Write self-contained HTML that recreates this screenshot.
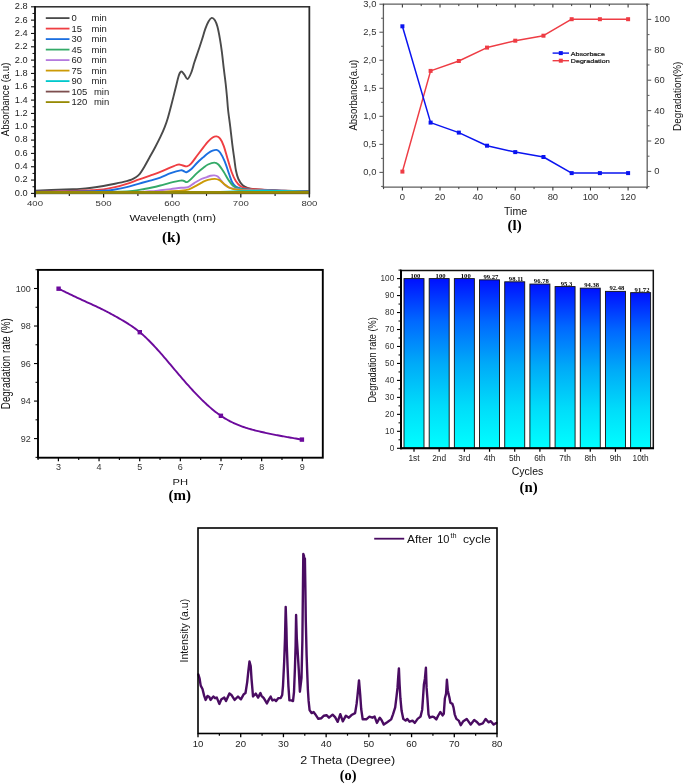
<!DOCTYPE html><html><head><meta charset="utf-8"><style>html,body{margin:0;padding:0;background:#fff;}svg{display:block;will-change:transform;}</style></head><body>
<svg width="685" height="784" viewBox="0 0 685 784">
<rect width="685" height="784" fill="#fff"/>
<line x1="31" y1="193.4" x2="35" y2="193.4" stroke="#111" stroke-width="1.1"/>
<text transform="translate(27.6 195.8) scale(1.1 1)" font-size="8.4" text-anchor="end" fill="#1c1c1c" font-family="'Liberation Sans', sans-serif" font-weight="normal">0.0</text>
<line x1="32.5" y1="186.74" x2="35" y2="186.74" stroke="#111" stroke-width="1"/>
<line x1="31" y1="180.07" x2="35" y2="180.07" stroke="#111" stroke-width="1.1"/>
<text transform="translate(27.6 182.47) scale(1.1 1)" font-size="8.4" text-anchor="end" fill="#1c1c1c" font-family="'Liberation Sans', sans-serif" font-weight="normal">0.2</text>
<line x1="32.5" y1="173.41" x2="35" y2="173.41" stroke="#111" stroke-width="1"/>
<line x1="31" y1="166.74" x2="35" y2="166.74" stroke="#111" stroke-width="1.1"/>
<text transform="translate(27.6 169.14) scale(1.1 1)" font-size="8.4" text-anchor="end" fill="#1c1c1c" font-family="'Liberation Sans', sans-serif" font-weight="normal">0.4</text>
<line x1="32.5" y1="160.08" x2="35" y2="160.08" stroke="#111" stroke-width="1"/>
<line x1="31" y1="153.41" x2="35" y2="153.41" stroke="#111" stroke-width="1.1"/>
<text transform="translate(27.6 155.81) scale(1.1 1)" font-size="8.4" text-anchor="end" fill="#1c1c1c" font-family="'Liberation Sans', sans-serif" font-weight="normal">0.6</text>
<line x1="32.5" y1="146.75" x2="35" y2="146.75" stroke="#111" stroke-width="1"/>
<line x1="31" y1="140.09" x2="35" y2="140.09" stroke="#111" stroke-width="1.1"/>
<text transform="translate(27.6 142.49) scale(1.1 1)" font-size="8.4" text-anchor="end" fill="#1c1c1c" font-family="'Liberation Sans', sans-serif" font-weight="normal">0.8</text>
<line x1="32.5" y1="133.42" x2="35" y2="133.42" stroke="#111" stroke-width="1"/>
<line x1="31" y1="126.76" x2="35" y2="126.76" stroke="#111" stroke-width="1.1"/>
<text transform="translate(27.6 129.16) scale(1.1 1)" font-size="8.4" text-anchor="end" fill="#1c1c1c" font-family="'Liberation Sans', sans-serif" font-weight="normal">1.0</text>
<line x1="32.5" y1="120.09" x2="35" y2="120.09" stroke="#111" stroke-width="1"/>
<line x1="31" y1="113.43" x2="35" y2="113.43" stroke="#111" stroke-width="1.1"/>
<text transform="translate(27.6 115.83) scale(1.1 1)" font-size="8.4" text-anchor="end" fill="#1c1c1c" font-family="'Liberation Sans', sans-serif" font-weight="normal">1.2</text>
<line x1="32.5" y1="106.76" x2="35" y2="106.76" stroke="#111" stroke-width="1"/>
<line x1="31" y1="100.1" x2="35" y2="100.1" stroke="#111" stroke-width="1.1"/>
<text transform="translate(27.6 102.5) scale(1.1 1)" font-size="8.4" text-anchor="end" fill="#1c1c1c" font-family="'Liberation Sans', sans-serif" font-weight="normal">1.4</text>
<line x1="32.5" y1="93.44" x2="35" y2="93.44" stroke="#111" stroke-width="1"/>
<line x1="31" y1="86.77" x2="35" y2="86.77" stroke="#111" stroke-width="1.1"/>
<text transform="translate(27.6 89.17) scale(1.1 1)" font-size="8.4" text-anchor="end" fill="#1c1c1c" font-family="'Liberation Sans', sans-serif" font-weight="normal">1.6</text>
<line x1="32.5" y1="80.11" x2="35" y2="80.11" stroke="#111" stroke-width="1"/>
<line x1="31" y1="73.44" x2="35" y2="73.44" stroke="#111" stroke-width="1.1"/>
<text transform="translate(27.6 75.84) scale(1.1 1)" font-size="8.4" text-anchor="end" fill="#1c1c1c" font-family="'Liberation Sans', sans-serif" font-weight="normal">1.8</text>
<line x1="32.5" y1="66.78" x2="35" y2="66.78" stroke="#111" stroke-width="1"/>
<line x1="31" y1="60.11" x2="35" y2="60.11" stroke="#111" stroke-width="1.1"/>
<text transform="translate(27.6 62.51) scale(1.1 1)" font-size="8.4" text-anchor="end" fill="#1c1c1c" font-family="'Liberation Sans', sans-serif" font-weight="normal">2.0</text>
<line x1="32.5" y1="53.45" x2="35" y2="53.45" stroke="#111" stroke-width="1"/>
<line x1="31" y1="46.79" x2="35" y2="46.79" stroke="#111" stroke-width="1.1"/>
<text transform="translate(27.6 49.19) scale(1.1 1)" font-size="8.4" text-anchor="end" fill="#1c1c1c" font-family="'Liberation Sans', sans-serif" font-weight="normal">2.2</text>
<line x1="32.5" y1="40.12" x2="35" y2="40.12" stroke="#111" stroke-width="1"/>
<line x1="31" y1="33.46" x2="35" y2="33.46" stroke="#111" stroke-width="1.1"/>
<text transform="translate(27.6 35.86) scale(1.1 1)" font-size="8.4" text-anchor="end" fill="#1c1c1c" font-family="'Liberation Sans', sans-serif" font-weight="normal">2.4</text>
<line x1="32.5" y1="26.79" x2="35" y2="26.79" stroke="#111" stroke-width="1"/>
<line x1="31" y1="20.13" x2="35" y2="20.13" stroke="#111" stroke-width="1.1"/>
<text transform="translate(27.6 22.53) scale(1.1 1)" font-size="8.4" text-anchor="end" fill="#1c1c1c" font-family="'Liberation Sans', sans-serif" font-weight="normal">2.6</text>
<line x1="32.5" y1="13.46" x2="35" y2="13.46" stroke="#111" stroke-width="1"/>
<line x1="31" y1="6.8" x2="35" y2="6.8" stroke="#111" stroke-width="1.1"/>
<text transform="translate(27.6 9.2) scale(1.1 1)" font-size="8.4" text-anchor="end" fill="#1c1c1c" font-family="'Liberation Sans', sans-serif" font-weight="normal">2.8</text>
<line x1="35" y1="193.4" x2="35" y2="197.4" stroke="#111" stroke-width="1.2"/>
<text transform="translate(35 206.3) scale(1.2 1)" font-size="8" text-anchor="middle" fill="#333" font-family="'Liberation Sans', sans-serif" font-weight="normal">400</text>
<line x1="69.3" y1="193.4" x2="69.3" y2="195.9" stroke="#111" stroke-width="1.1"/>
<line x1="103.6" y1="193.4" x2="103.6" y2="197.4" stroke="#111" stroke-width="1.2"/>
<text transform="translate(103.6 206.3) scale(1.2 1)" font-size="8" text-anchor="middle" fill="#333" font-family="'Liberation Sans', sans-serif" font-weight="normal">500</text>
<line x1="137.9" y1="193.4" x2="137.9" y2="195.9" stroke="#111" stroke-width="1.1"/>
<line x1="172.2" y1="193.4" x2="172.2" y2="197.4" stroke="#111" stroke-width="1.2"/>
<text transform="translate(172.2 206.3) scale(1.2 1)" font-size="8" text-anchor="middle" fill="#333" font-family="'Liberation Sans', sans-serif" font-weight="normal">600</text>
<line x1="206.5" y1="193.4" x2="206.5" y2="195.9" stroke="#111" stroke-width="1.1"/>
<line x1="240.8" y1="193.4" x2="240.8" y2="197.4" stroke="#111" stroke-width="1.2"/>
<text transform="translate(240.8 206.3) scale(1.2 1)" font-size="8" text-anchor="middle" fill="#333" font-family="'Liberation Sans', sans-serif" font-weight="normal">700</text>
<line x1="275.1" y1="193.4" x2="275.1" y2="195.9" stroke="#111" stroke-width="1.1"/>
<line x1="309.4" y1="193.4" x2="309.4" y2="197.4" stroke="#111" stroke-width="1.2"/>
<text transform="translate(309.4 206.3) scale(1.2 1)" font-size="8" text-anchor="middle" fill="#333" font-family="'Liberation Sans', sans-serif" font-weight="normal">800</text>
<rect x="35" y="6.8" width="274.4" height="186.6" fill="none" stroke="#2a2a2a" stroke-width="1.5"/>
<path d="M35.5 190.6C40.42 190.4 57.58 189.68 65 189.4C72.42 189.12 75.55 189.17 80 188.9C84.45 188.63 87.8 188.28 91.7 187.8C95.6 187.32 99.52 186.68 103.4 186C107.28 185.32 111.12 184.52 115 183.7C118.88 182.88 123.95 181.77 126.7 181.1C129.45 180.43 130.05 180.28 131.5 179.7C132.95 179.12 134.02 178.58 135.4 177.6C136.78 176.62 138.35 175.53 139.8 173.8C141.25 172.07 142.48 169.92 144.1 167.2C145.72 164.48 147.7 160.75 149.5 157.5C151.3 154.25 153.08 151.13 154.9 147.7C156.72 144.27 158.77 140.33 160.4 136.9C162.03 133.47 163.43 130.35 164.7 127.1C165.97 123.85 166.92 121.02 168 117.4C169.08 113.78 170.2 109.22 171.2 105.4C172.2 101.58 173.1 98.07 174 94.5C174.9 90.93 175.75 87.32 176.6 84C177.45 80.68 178.3 76.68 179.1 74.6C179.9 72.52 180.55 71.53 181.4 71.5C182.25 71.47 183.17 73.15 184.2 74.4C185.23 75.65 186.42 79.32 187.6 79C188.78 78.68 190.17 75.28 191.3 72.5C192.43 69.72 193.23 65.92 194.4 62.3C195.57 58.68 197.02 54.63 198.3 50.8C199.58 46.97 200.93 42.95 202.1 39.3C203.27 35.65 204.23 31.87 205.3 28.9C206.37 25.93 207.43 23.33 208.5 21.5C209.57 19.67 210.63 18.12 211.7 17.9C212.77 17.68 213.95 18.75 214.9 20.2C215.85 21.65 216.55 23.42 217.4 26.6C218.25 29.78 219.25 35.05 220 39.3C220.75 43.55 221.27 47.2 221.9 52.1C222.53 57 223.17 63.38 223.8 68.7C224.43 74.02 225.17 79.28 225.7 84C226.23 88.72 226.6 92.67 227 97C227.4 101.33 227.55 104.97 228.1 110C228.65 115.03 229.6 121.47 230.3 127.2C231 132.93 231.65 139.23 232.3 144.4C232.95 149.57 233.58 153.8 234.2 158.2C234.82 162.6 235.3 167.33 236 170.8C236.7 174.27 237.3 176.58 238.4 179C239.5 181.42 241.08 183.8 242.6 185.3C244.12 186.8 245.43 187.33 247.5 188C249.57 188.67 252.2 188.98 255 189.3C257.8 189.62 259.3 189.65 264.3 189.9C269.3 190.15 277.55 190.58 285 190.8C292.45 191.02 305 191.13 309 191.2" fill="none" stroke="#4a4a4a" stroke-width="1.9" stroke-linejoin="round" stroke-linecap="butt"/>
<path d="M35.5 191.6C39.58 191.53 52.58 191.37 60 191.2C67.42 191.03 74.72 190.77 80 190.6C85.28 190.43 87.8 190.4 91.7 190.2C95.6 190 99.52 189.9 103.4 189.4C107.28 188.9 111.12 188.13 115 187.2C118.88 186.27 122.8 185.05 126.7 183.8C130.6 182.55 134.5 181.07 138.4 179.7C142.3 178.33 146.45 176.9 150.1 175.6C153.75 174.3 156.87 173.28 160.3 171.9C163.73 170.52 167.75 168.52 170.7 167.3C173.65 166.08 176.28 165 178 164.6C179.72 164.2 179.5 164.6 181 164.9C182.5 165.2 185.32 166.6 187 166.4C188.68 166.2 189.4 165.52 191.1 163.7C192.8 161.88 195.15 158.22 197.2 155.5C199.25 152.78 201.6 149.72 203.4 147.4C205.2 145.08 206.47 143.25 208 141.6C209.53 139.95 211.17 138.37 212.6 137.5C214.03 136.63 215.35 136.2 216.6 136.4C217.85 136.6 218.93 137.17 220.1 138.7C221.27 140.23 222.38 142.35 223.6 145.6C224.82 148.85 226.07 153.8 227.4 158.2C228.73 162.6 230.2 168.18 231.6 172C233 175.82 234.32 178.73 235.8 181.1C237.28 183.47 238.63 184.97 240.5 186.2C242.37 187.43 244.57 188 247 188.5C249.43 189 252.42 189.02 255.1 189.2C257.78 189.38 258.95 189.37 263.1 189.6C267.25 189.83 272.35 190.3 280 190.6C287.65 190.9 304.17 191.27 309 191.4" fill="none" stroke="#ef3e42" stroke-width="1.9" stroke-linejoin="round" stroke-linecap="butt"/>
<path d="M35.5 191.8C42.92 191.75 68.68 191.67 80 191.5C91.32 191.33 97.57 191.13 103.4 190.8C109.23 190.47 111.12 190.1 115 189.5C118.88 188.9 122.8 188.15 126.7 187.2C130.6 186.25 134.5 184.9 138.4 183.8C142.3 182.7 146.45 181.63 150.1 180.6C153.75 179.57 156.87 178.83 160.3 177.6C163.73 176.37 167.32 174.4 170.7 173.2C174.08 172 178.47 170.77 180.6 170.4C182.73 170.03 182.52 170.7 183.5 171C184.48 171.3 185.23 172.48 186.5 172.2C187.77 171.92 189.32 170.88 191.1 169.3C192.88 167.72 195.15 164.73 197.2 162.7C199.25 160.67 201.6 158.67 203.4 157.1C205.2 155.53 206.47 154.37 208 153.3C209.53 152.23 211.17 151.27 212.6 150.7C214.03 150.13 215.35 149.6 216.6 149.9C217.85 150.2 218.73 150.55 220.1 152.5C221.47 154.45 223.28 157.97 224.8 161.6C226.32 165.23 227.97 170.85 229.2 174.3C230.43 177.75 231.1 180.25 232.2 182.3C233.3 184.35 234.25 185.55 235.8 186.6C237.35 187.65 239.13 188.1 241.5 188.6C243.87 189.1 245.25 189.3 250 189.6C254.75 189.9 260.17 190.08 270 190.4C279.83 190.72 302.5 191.32 309 191.5" fill="none" stroke="#1b6fe0" stroke-width="1.9" stroke-linejoin="round" stroke-linecap="butt"/>
<path d="M35.5 192.2C46.25 192.17 85.92 192.08 100 192C114.08 191.92 114.57 191.88 120 191.7C125.43 191.52 128.57 191.35 132.6 190.9C136.63 190.45 140.97 189.57 144.2 189C147.43 188.43 149.32 188.08 152 187.5C154.68 186.92 157.18 186.3 160.3 185.5C163.42 184.7 167.32 183.52 170.7 182.7C174.08 181.88 178.47 180.92 180.6 180.6C182.73 180.28 182.43 180.55 183.5 180.8C184.57 181.05 185.73 182.4 187 182.1C188.27 181.8 189.4 180.53 191.1 179C192.8 177.47 195.15 174.77 197.2 172.9C199.25 171.03 201.6 169.2 203.4 167.8C205.2 166.4 206.18 165.37 208 164.5C209.82 163.63 212.57 162.6 214.3 162.6C216.03 162.6 216.82 162.93 218.4 164.5C219.98 166.07 222.12 169.42 223.8 172C225.48 174.58 226.92 177.67 228.5 180C230.08 182.33 231.55 184.57 233.3 186C235.05 187.43 236.22 187.97 239 188.6C241.78 189.23 244.83 189.47 250 189.8C255.17 190.13 260.17 190.28 270 190.6C279.83 190.92 302.5 191.52 309 191.7" fill="none" stroke="#34aa68" stroke-width="1.9" stroke-linejoin="round" stroke-linecap="butt"/>
<path d="M35.5 192.4C51.25 192.33 110.92 192.18 130 192C149.08 191.82 144.93 191.58 150 191.3C155.07 191.02 156.95 190.67 160.4 190.3C163.85 189.93 167.28 189.52 170.7 189.1C174.12 188.68 178.02 188.12 180.9 187.8C183.78 187.48 185.78 187.98 188 187.2C190.22 186.42 191.98 184.47 194.2 183.1C196.42 181.73 199.18 180 201.3 179C203.42 178 205.37 177.63 206.9 177.1C208.43 176.57 209.27 176.08 210.5 175.8C211.73 175.52 213.08 175.27 214.3 175.4C215.52 175.53 216.65 175.73 217.8 176.6C218.95 177.47 219.97 179.17 221.2 180.6C222.43 182.03 223.57 183.93 225.2 185.2C226.83 186.47 228.53 187.47 231 188.2C233.47 188.93 235.17 189.22 240 189.6C244.83 189.98 248.5 190.12 260 190.5C271.5 190.88 300.83 191.67 309 191.9" fill="none" stroke="#b47ade" stroke-width="1.9" stroke-linejoin="round" stroke-linecap="butt"/>
<path d="M35.5 192.5C54.58 192.45 127.47 192.42 150 192.2C172.53 191.98 165.55 191.43 170.7 191.2C175.85 190.97 177.85 191.12 180.9 190.8C183.95 190.48 186.28 190.23 189 189.3C191.72 188.37 194.8 186.48 197.2 185.2C199.6 183.92 201.6 182.48 203.4 181.6C205.2 180.72 206.08 180.35 208 179.9C209.92 179.45 212.98 178.85 214.9 178.9C216.82 178.95 217.97 179.35 219.5 180.2C221.03 181.05 222.38 182.7 224.1 184C225.82 185.3 227.5 187.02 229.8 188C232.1 188.98 233.7 189.43 237.9 189.9C242.1 190.37 243.15 190.43 255 190.8C266.85 191.17 300 191.88 309 192.1" fill="none" stroke="#cc9a06" stroke-width="1.9" stroke-linejoin="round" stroke-linecap="butt"/>
<path d="M35.5 192.6C62.92 192.53 165.92 192.43 200 192.2C234.08 191.97 230 191.42 240 191.2C250 190.98 253.33 190.93 260 190.9C266.67 190.87 271.83 190.78 280 191C288.17 191.22 304.17 192 309 192.2" fill="none" stroke="#00c8cc" stroke-width="1.9" stroke-linejoin="round" stroke-linecap="butt"/>
<path d="M35.8 192.6C81.33 192.6 263.47 192.6 309 192.6" fill="none" stroke="#7d4e4e" stroke-width="1.9" stroke-linejoin="round" stroke-linecap="butt"/>
<path d="M35.8 192.4C81.33 192.4 263.47 192.4 309 192.4" fill="none" stroke="#968a04" stroke-width="2.6" stroke-linejoin="round" stroke-linecap="butt"/>
<line x1="35" y1="6" x2="35" y2="196.9" stroke="#111" stroke-width="1.6"/>
<line x1="309.4" y1="6.1" x2="309.4" y2="196.9" stroke="#2a2a2a" stroke-width="1.4"/>
<line x1="45.8" y1="18.1" x2="69.5" y2="18.1" stroke="#4a4a4a" stroke-width="1.8"/>
<text transform="translate(71.6 21.3) scale(1.1 1)" font-size="8.6" text-anchor="start" fill="#222" font-family="'Liberation Sans', sans-serif" font-weight="normal">0</text>
<text transform="translate(91.6 21.3) scale(1.1 1)" font-size="8.6" text-anchor="start" fill="#222" font-family="'Liberation Sans', sans-serif" font-weight="normal">min</text>
<line x1="45.8" y1="28.6" x2="69.5" y2="28.6" stroke="#ef3e42" stroke-width="1.8"/>
<text transform="translate(71.6 31.8) scale(1.1 1)" font-size="8.6" text-anchor="start" fill="#222" font-family="'Liberation Sans', sans-serif" font-weight="normal">15</text>
<text transform="translate(91.6 31.8) scale(1.1 1)" font-size="8.6" text-anchor="start" fill="#222" font-family="'Liberation Sans', sans-serif" font-weight="normal">min</text>
<line x1="45.8" y1="39.1" x2="69.5" y2="39.1" stroke="#1b6fe0" stroke-width="1.8"/>
<text transform="translate(71.6 42.3) scale(1.1 1)" font-size="8.6" text-anchor="start" fill="#222" font-family="'Liberation Sans', sans-serif" font-weight="normal">30</text>
<text transform="translate(91.6 42.3) scale(1.1 1)" font-size="8.6" text-anchor="start" fill="#222" font-family="'Liberation Sans', sans-serif" font-weight="normal">min</text>
<line x1="45.8" y1="49.6" x2="69.5" y2="49.6" stroke="#34aa68" stroke-width="1.8"/>
<text transform="translate(71.6 52.8) scale(1.1 1)" font-size="8.6" text-anchor="start" fill="#222" font-family="'Liberation Sans', sans-serif" font-weight="normal">45</text>
<text transform="translate(91.6 52.8) scale(1.1 1)" font-size="8.6" text-anchor="start" fill="#222" font-family="'Liberation Sans', sans-serif" font-weight="normal">min</text>
<line x1="45.8" y1="60.1" x2="69.5" y2="60.1" stroke="#b47ade" stroke-width="1.8"/>
<text transform="translate(71.6 63.3) scale(1.1 1)" font-size="8.6" text-anchor="start" fill="#222" font-family="'Liberation Sans', sans-serif" font-weight="normal">60</text>
<text transform="translate(91.6 63.3) scale(1.1 1)" font-size="8.6" text-anchor="start" fill="#222" font-family="'Liberation Sans', sans-serif" font-weight="normal">min</text>
<line x1="45.8" y1="70.6" x2="69.5" y2="70.6" stroke="#cc9a06" stroke-width="1.8"/>
<text transform="translate(71.6 73.8) scale(1.1 1)" font-size="8.6" text-anchor="start" fill="#222" font-family="'Liberation Sans', sans-serif" font-weight="normal">75</text>
<text transform="translate(91.6 73.8) scale(1.1 1)" font-size="8.6" text-anchor="start" fill="#222" font-family="'Liberation Sans', sans-serif" font-weight="normal">min</text>
<line x1="45.8" y1="81.1" x2="69.5" y2="81.1" stroke="#00c8cc" stroke-width="1.8"/>
<text transform="translate(71.6 84.3) scale(1.1 1)" font-size="8.6" text-anchor="start" fill="#222" font-family="'Liberation Sans', sans-serif" font-weight="normal">90</text>
<text transform="translate(91.6 84.3) scale(1.1 1)" font-size="8.6" text-anchor="start" fill="#222" font-family="'Liberation Sans', sans-serif" font-weight="normal">min</text>
<line x1="45.8" y1="91.6" x2="69.5" y2="91.6" stroke="#7d4e4e" stroke-width="1.8"/>
<text transform="translate(71.6 94.8) scale(1.1 1)" font-size="8.6" text-anchor="start" fill="#222" font-family="'Liberation Sans', sans-serif" font-weight="normal">105</text>
<text transform="translate(94 94.8) scale(1.1 1)" font-size="8.6" text-anchor="start" fill="#222" font-family="'Liberation Sans', sans-serif" font-weight="normal">min</text>
<line x1="45.8" y1="102.1" x2="69.5" y2="102.1" stroke="#968a04" stroke-width="1.8"/>
<text transform="translate(71.6 105.3) scale(1.1 1)" font-size="8.6" text-anchor="start" fill="#222" font-family="'Liberation Sans', sans-serif" font-weight="normal">120</text>
<text transform="translate(94 105.3) scale(1.1 1)" font-size="8.6" text-anchor="start" fill="#222" font-family="'Liberation Sans', sans-serif" font-weight="normal">min</text>
<text transform="translate(172.7 221) scale(1.33 1)" font-size="8.6" text-anchor="middle" fill="#111" font-family="'Liberation Sans', sans-serif" font-weight="normal">Wavelength (nm)</text>
<text transform="translate(9.1 99.4) rotate(-90) scale(1 1.22)" font-size="9.6" text-anchor="middle" fill="#111" font-family="'Liberation Sans', sans-serif" font-weight="normal">Absorbance (a.u)</text>
<text transform="translate(171.3 241.6)" font-size="15.3" text-anchor="middle" fill="#000" font-family="'Liberation Serif', serif" font-weight="bold">(k)</text>
<line x1="383.4" y1="4.2" x2="647.2" y2="4.2" stroke="#5e5e5e" stroke-width="1.3"/>
<line x1="383.4" y1="3.6" x2="383.4" y2="187.7" stroke="#5e5e5e" stroke-width="1.3"/>
<line x1="382.8" y1="187.1" x2="647.8" y2="187.1" stroke="#5e5e5e" stroke-width="1.3"/>
<line x1="647.2" y1="3.6" x2="647.2" y2="187.7" stroke="#5e5e5e" stroke-width="1.3"/>
<line x1="379.4" y1="172.4" x2="383.4" y2="172.4" stroke="#5e5e5e" stroke-width="1.1"/>
<text transform="translate(376.4 175.4) scale(1.12 1)" font-size="8.4" text-anchor="end" fill="#333" font-family="'Liberation Sans', sans-serif" font-weight="normal">0,0</text>
<line x1="381.1" y1="158.38" x2="383.4" y2="158.38" stroke="#5e5e5e" stroke-width="1"/>
<line x1="379.4" y1="144.37" x2="383.4" y2="144.37" stroke="#5e5e5e" stroke-width="1.1"/>
<text transform="translate(376.4 147.37) scale(1.12 1)" font-size="8.4" text-anchor="end" fill="#333" font-family="'Liberation Sans', sans-serif" font-weight="normal">0,5</text>
<line x1="381.1" y1="130.35" x2="383.4" y2="130.35" stroke="#5e5e5e" stroke-width="1"/>
<line x1="379.4" y1="116.33" x2="383.4" y2="116.33" stroke="#5e5e5e" stroke-width="1.1"/>
<text transform="translate(376.4 119.33) scale(1.12 1)" font-size="8.4" text-anchor="end" fill="#333" font-family="'Liberation Sans', sans-serif" font-weight="normal">1,0</text>
<line x1="381.1" y1="102.32" x2="383.4" y2="102.32" stroke="#5e5e5e" stroke-width="1"/>
<line x1="379.4" y1="88.3" x2="383.4" y2="88.3" stroke="#5e5e5e" stroke-width="1.1"/>
<text transform="translate(376.4 91.3) scale(1.12 1)" font-size="8.4" text-anchor="end" fill="#333" font-family="'Liberation Sans', sans-serif" font-weight="normal">1,5</text>
<line x1="381.1" y1="74.28" x2="383.4" y2="74.28" stroke="#5e5e5e" stroke-width="1"/>
<line x1="379.4" y1="60.27" x2="383.4" y2="60.27" stroke="#5e5e5e" stroke-width="1.1"/>
<text transform="translate(376.4 63.27) scale(1.12 1)" font-size="8.4" text-anchor="end" fill="#333" font-family="'Liberation Sans', sans-serif" font-weight="normal">2,0</text>
<line x1="381.1" y1="46.25" x2="383.4" y2="46.25" stroke="#5e5e5e" stroke-width="1"/>
<line x1="379.4" y1="32.23" x2="383.4" y2="32.23" stroke="#5e5e5e" stroke-width="1.1"/>
<text transform="translate(376.4 35.23) scale(1.12 1)" font-size="8.4" text-anchor="end" fill="#333" font-family="'Liberation Sans', sans-serif" font-weight="normal">2,5</text>
<line x1="381.1" y1="18.22" x2="383.4" y2="18.22" stroke="#5e5e5e" stroke-width="1"/>
<line x1="379.4" y1="4.2" x2="383.4" y2="4.2" stroke="#5e5e5e" stroke-width="1.1"/>
<text transform="translate(376.4 7.2) scale(1.12 1)" font-size="8.4" text-anchor="end" fill="#333" font-family="'Liberation Sans', sans-serif" font-weight="normal">3,0</text>
<line x1="381.1" y1="186.42" x2="383.4" y2="186.42" stroke="#5e5e5e" stroke-width="1"/>
<line x1="647.2" y1="186.6" x2="649.5" y2="186.6" stroke="#5e5e5e" stroke-width="1"/>
<line x1="647.2" y1="171.4" x2="651.2" y2="171.4" stroke="#5e5e5e" stroke-width="1.1"/>
<text transform="translate(654.3 174.4) scale(1.12 1)" font-size="8.4" text-anchor="start" fill="#333" font-family="'Liberation Sans', sans-serif" font-weight="normal">0</text>
<line x1="647.2" y1="156.2" x2="649.5" y2="156.2" stroke="#5e5e5e" stroke-width="1"/>
<line x1="647.2" y1="141" x2="651.2" y2="141" stroke="#5e5e5e" stroke-width="1.1"/>
<text transform="translate(654.3 144) scale(1.12 1)" font-size="8.4" text-anchor="start" fill="#333" font-family="'Liberation Sans', sans-serif" font-weight="normal">20</text>
<line x1="647.2" y1="125.8" x2="649.5" y2="125.8" stroke="#5e5e5e" stroke-width="1"/>
<line x1="647.2" y1="110.6" x2="651.2" y2="110.6" stroke="#5e5e5e" stroke-width="1.1"/>
<text transform="translate(654.3 113.6) scale(1.12 1)" font-size="8.4" text-anchor="start" fill="#333" font-family="'Liberation Sans', sans-serif" font-weight="normal">40</text>
<line x1="647.2" y1="95.4" x2="649.5" y2="95.4" stroke="#5e5e5e" stroke-width="1"/>
<line x1="647.2" y1="80.2" x2="651.2" y2="80.2" stroke="#5e5e5e" stroke-width="1.1"/>
<text transform="translate(654.3 83.2) scale(1.12 1)" font-size="8.4" text-anchor="start" fill="#333" font-family="'Liberation Sans', sans-serif" font-weight="normal">60</text>
<line x1="647.2" y1="65" x2="649.5" y2="65" stroke="#5e5e5e" stroke-width="1"/>
<line x1="647.2" y1="49.8" x2="651.2" y2="49.8" stroke="#5e5e5e" stroke-width="1.1"/>
<text transform="translate(654.3 52.8) scale(1.12 1)" font-size="8.4" text-anchor="start" fill="#333" font-family="'Liberation Sans', sans-serif" font-weight="normal">80</text>
<line x1="647.2" y1="34.6" x2="649.5" y2="34.6" stroke="#5e5e5e" stroke-width="1"/>
<line x1="647.2" y1="19.4" x2="651.2" y2="19.4" stroke="#5e5e5e" stroke-width="1.1"/>
<text transform="translate(654.3 22.4) scale(1.12 1)" font-size="8.4" text-anchor="start" fill="#333" font-family="'Liberation Sans', sans-serif" font-weight="normal">100</text>
<line x1="647.2" y1="4.2" x2="649.5" y2="4.2" stroke="#5e5e5e" stroke-width="1"/>
<line x1="383.59" y1="187.1" x2="383.59" y2="189.1" stroke="#3a3a3a" stroke-width="1"/>
<line x1="383.59" y1="4.2" x2="383.59" y2="6.1" stroke="#3a3a3a" stroke-width="1"/>
<line x1="402.4" y1="187.1" x2="402.4" y2="190.5" stroke="#3a3a3a" stroke-width="1.1"/>
<line x1="402.4" y1="4.2" x2="402.4" y2="7.6" stroke="#3a3a3a" stroke-width="1.1"/>
<text transform="translate(402.4 199.8) scale(1.12 1)" font-size="8.4" text-anchor="middle" fill="#333" font-family="'Liberation Sans', sans-serif" font-weight="normal">0</text>
<line x1="421.21" y1="187.1" x2="421.21" y2="189.1" stroke="#3a3a3a" stroke-width="1"/>
<line x1="421.21" y1="4.2" x2="421.21" y2="6.1" stroke="#3a3a3a" stroke-width="1"/>
<line x1="440.02" y1="187.1" x2="440.02" y2="190.5" stroke="#3a3a3a" stroke-width="1.1"/>
<line x1="440.02" y1="4.2" x2="440.02" y2="7.6" stroke="#3a3a3a" stroke-width="1.1"/>
<text transform="translate(440.02 199.8) scale(1.12 1)" font-size="8.4" text-anchor="middle" fill="#333" font-family="'Liberation Sans', sans-serif" font-weight="normal">20</text>
<line x1="458.82" y1="187.1" x2="458.82" y2="189.1" stroke="#3a3a3a" stroke-width="1"/>
<line x1="458.82" y1="4.2" x2="458.82" y2="6.1" stroke="#3a3a3a" stroke-width="1"/>
<line x1="477.63" y1="187.1" x2="477.63" y2="190.5" stroke="#3a3a3a" stroke-width="1.1"/>
<line x1="477.63" y1="4.2" x2="477.63" y2="7.6" stroke="#3a3a3a" stroke-width="1.1"/>
<text transform="translate(477.63 199.8) scale(1.12 1)" font-size="8.4" text-anchor="middle" fill="#333" font-family="'Liberation Sans', sans-serif" font-weight="normal">40</text>
<line x1="496.44" y1="187.1" x2="496.44" y2="189.1" stroke="#3a3a3a" stroke-width="1"/>
<line x1="496.44" y1="4.2" x2="496.44" y2="6.1" stroke="#3a3a3a" stroke-width="1"/>
<line x1="515.25" y1="187.1" x2="515.25" y2="190.5" stroke="#3a3a3a" stroke-width="1.1"/>
<line x1="515.25" y1="4.2" x2="515.25" y2="7.6" stroke="#3a3a3a" stroke-width="1.1"/>
<text transform="translate(515.25 199.8) scale(1.12 1)" font-size="8.4" text-anchor="middle" fill="#333" font-family="'Liberation Sans', sans-serif" font-weight="normal">60</text>
<line x1="534.06" y1="187.1" x2="534.06" y2="189.1" stroke="#3a3a3a" stroke-width="1"/>
<line x1="534.06" y1="4.2" x2="534.06" y2="6.1" stroke="#3a3a3a" stroke-width="1"/>
<line x1="552.87" y1="187.1" x2="552.87" y2="190.5" stroke="#3a3a3a" stroke-width="1.1"/>
<line x1="552.87" y1="4.2" x2="552.87" y2="7.6" stroke="#3a3a3a" stroke-width="1.1"/>
<text transform="translate(552.87 199.8) scale(1.12 1)" font-size="8.4" text-anchor="middle" fill="#333" font-family="'Liberation Sans', sans-serif" font-weight="normal">80</text>
<line x1="571.67" y1="187.1" x2="571.67" y2="189.1" stroke="#3a3a3a" stroke-width="1"/>
<line x1="571.67" y1="4.2" x2="571.67" y2="6.1" stroke="#3a3a3a" stroke-width="1"/>
<line x1="590.48" y1="187.1" x2="590.48" y2="190.5" stroke="#3a3a3a" stroke-width="1.1"/>
<line x1="590.48" y1="4.2" x2="590.48" y2="7.6" stroke="#3a3a3a" stroke-width="1.1"/>
<text transform="translate(590.48 199.8) scale(1.12 1)" font-size="8.4" text-anchor="middle" fill="#333" font-family="'Liberation Sans', sans-serif" font-weight="normal">100</text>
<line x1="609.29" y1="187.1" x2="609.29" y2="189.1" stroke="#3a3a3a" stroke-width="1"/>
<line x1="609.29" y1="4.2" x2="609.29" y2="6.1" stroke="#3a3a3a" stroke-width="1"/>
<line x1="628.1" y1="187.1" x2="628.1" y2="190.5" stroke="#3a3a3a" stroke-width="1.1"/>
<line x1="628.1" y1="4.2" x2="628.1" y2="7.6" stroke="#3a3a3a" stroke-width="1.1"/>
<text transform="translate(628.1 199.8) scale(1.12 1)" font-size="8.4" text-anchor="middle" fill="#333" font-family="'Liberation Sans', sans-serif" font-weight="normal">120</text>
<line x1="646.91" y1="187.1" x2="646.91" y2="189.1" stroke="#3a3a3a" stroke-width="1"/>
<line x1="646.91" y1="4.2" x2="646.91" y2="6.1" stroke="#3a3a3a" stroke-width="1"/>
<polyline points="402.4,171.6 430.61,70.9 458.82,61 487.04,47.6 515.25,40.7 543.46,35.7 571.67,19.2 599.89,19.2 628.1,19.2" fill="none" stroke="#ee3c44" stroke-width="1.5" stroke-linejoin="round"/>
<polyline points="402.4,26.3 430.61,122.6 458.82,132.6 487.04,145.7 515.25,152.1 543.46,157 571.67,173.1 599.89,173.1 628.1,173.1" fill="none" stroke="#0a14f0" stroke-width="1.5" stroke-linejoin="round"/>
<rect x="400.4" y="169.6" width="4" height="4" fill="#ee3c44"/>
<rect x="428.61" y="68.9" width="4" height="4" fill="#ee3c44"/>
<rect x="456.82" y="59" width="4" height="4" fill="#ee3c44"/>
<rect x="485.04" y="45.6" width="4" height="4" fill="#ee3c44"/>
<rect x="513.25" y="38.7" width="4" height="4" fill="#ee3c44"/>
<rect x="541.46" y="33.7" width="4" height="4" fill="#ee3c44"/>
<rect x="569.67" y="17.2" width="4" height="4" fill="#ee3c44"/>
<rect x="597.89" y="17.2" width="4" height="4" fill="#ee3c44"/>
<rect x="626.1" y="17.2" width="4" height="4" fill="#ee3c44"/>
<rect x="400.4" y="24.3" width="4" height="4" fill="#0a14f0"/>
<rect x="428.61" y="120.6" width="4" height="4" fill="#0a14f0"/>
<rect x="456.82" y="130.6" width="4" height="4" fill="#0a14f0"/>
<rect x="485.04" y="143.7" width="4" height="4" fill="#0a14f0"/>
<rect x="513.25" y="150.1" width="4" height="4" fill="#0a14f0"/>
<rect x="541.46" y="155" width="4" height="4" fill="#0a14f0"/>
<rect x="569.67" y="171.1" width="4" height="4" fill="#0a14f0"/>
<rect x="597.89" y="171.1" width="4" height="4" fill="#0a14f0"/>
<rect x="626.1" y="171.1" width="4" height="4" fill="#0a14f0"/>
<line x1="552.6" y1="53.1" x2="569" y2="53.1" stroke="#0a14f0" stroke-width="1.4"/>
<rect x="558.8" y="51.1" width="4" height="4" fill="#0a14f0"/>
<line x1="552.6" y1="60.7" x2="569" y2="60.7" stroke="#ee3c44" stroke-width="1.4"/>
<rect x="558.8" y="58.7" width="4" height="4" fill="#ee3c44"/>
<text transform="translate(570.8 55.5) scale(1.15 1)" font-size="6.2" text-anchor="start" fill="#111" font-family="'Liberation Sans', sans-serif" font-weight="normal" stroke="#111" stroke-width="0.2">Absorbace</text>
<text transform="translate(570.8 63.1) scale(1.15 1)" font-size="6.2" text-anchor="start" fill="#111" font-family="'Liberation Sans', sans-serif" font-weight="normal" stroke="#111" stroke-width="0.2">Degradation</text>
<text transform="translate(357.2 95.2) rotate(-90) scale(1 1.22)" font-size="9.6" text-anchor="middle" fill="#111" font-family="'Liberation Sans', sans-serif" font-weight="normal">Absorbance(a.u)</text>
<text transform="translate(681.2 96.3) rotate(-90) scale(1 1.15)" font-size="9.9" text-anchor="middle" fill="#111" font-family="'Liberation Sans', sans-serif" font-weight="normal">Degradation(%)</text>
<text transform="translate(515.6 214.8) scale(1.04 1)" font-size="10.2" text-anchor="middle" fill="#111" font-family="'Liberation Sans', sans-serif" font-weight="normal">Time</text>
<text transform="translate(514.6 230.2)" font-size="15" text-anchor="middle" fill="#000" font-family="'Liberation Serif', serif" font-weight="bold">(l)</text>
<line x1="35.5" y1="457.36" x2="38" y2="457.36" stroke="#000" stroke-width="1"/>
<line x1="34" y1="438.6" x2="38" y2="438.6" stroke="#000" stroke-width="1.1"/>
<text transform="translate(30.8 441.6) scale(1.1 1)" font-size="8.2" text-anchor="end" fill="#333" font-family="'Liberation Sans', sans-serif" font-weight="normal">92</text>
<line x1="35.5" y1="419.84" x2="38" y2="419.84" stroke="#000" stroke-width="1"/>
<line x1="34" y1="401.08" x2="38" y2="401.08" stroke="#000" stroke-width="1.1"/>
<text transform="translate(30.8 404.08) scale(1.1 1)" font-size="8.2" text-anchor="end" fill="#333" font-family="'Liberation Sans', sans-serif" font-weight="normal">94</text>
<line x1="35.5" y1="382.31" x2="38" y2="382.31" stroke="#000" stroke-width="1"/>
<line x1="34" y1="363.55" x2="38" y2="363.55" stroke="#000" stroke-width="1.1"/>
<text transform="translate(30.8 366.55) scale(1.1 1)" font-size="8.2" text-anchor="end" fill="#333" font-family="'Liberation Sans', sans-serif" font-weight="normal">96</text>
<line x1="35.5" y1="344.79" x2="38" y2="344.79" stroke="#000" stroke-width="1"/>
<line x1="34" y1="326.02" x2="38" y2="326.02" stroke="#000" stroke-width="1.1"/>
<text transform="translate(30.8 329.02) scale(1.1 1)" font-size="8.2" text-anchor="end" fill="#333" font-family="'Liberation Sans', sans-serif" font-weight="normal">98</text>
<line x1="35.5" y1="307.26" x2="38" y2="307.26" stroke="#000" stroke-width="1"/>
<line x1="34" y1="288.5" x2="38" y2="288.5" stroke="#000" stroke-width="1.1"/>
<text transform="translate(30.8 291.5) scale(1.1 1)" font-size="8.2" text-anchor="end" fill="#333" font-family="'Liberation Sans', sans-serif" font-weight="normal">100</text>
<line x1="35.5" y1="269.74" x2="38" y2="269.74" stroke="#000" stroke-width="1"/>
<line x1="38.08" y1="457.7" x2="38.08" y2="460" stroke="#000" stroke-width="1.1"/>
<line x1="58.4" y1="457.7" x2="58.4" y2="461.2" stroke="#000" stroke-width="1.2"/>
<text transform="translate(58.4 470.2) scale(1.1 1)" font-size="8.2" text-anchor="middle" fill="#333" font-family="'Liberation Sans', sans-serif" font-weight="normal">3</text>
<line x1="78.72" y1="457.7" x2="78.72" y2="460" stroke="#000" stroke-width="1.1"/>
<line x1="99.05" y1="457.7" x2="99.05" y2="461.2" stroke="#000" stroke-width="1.2"/>
<text transform="translate(99.05 470.2) scale(1.1 1)" font-size="8.2" text-anchor="middle" fill="#333" font-family="'Liberation Sans', sans-serif" font-weight="normal">4</text>
<line x1="119.38" y1="457.7" x2="119.38" y2="460" stroke="#000" stroke-width="1.1"/>
<line x1="139.7" y1="457.7" x2="139.7" y2="461.2" stroke="#000" stroke-width="1.2"/>
<text transform="translate(139.7 470.2) scale(1.1 1)" font-size="8.2" text-anchor="middle" fill="#333" font-family="'Liberation Sans', sans-serif" font-weight="normal">5</text>
<line x1="160.03" y1="457.7" x2="160.03" y2="460" stroke="#000" stroke-width="1.1"/>
<line x1="180.35" y1="457.7" x2="180.35" y2="461.2" stroke="#000" stroke-width="1.2"/>
<text transform="translate(180.35 470.2) scale(1.1 1)" font-size="8.2" text-anchor="middle" fill="#333" font-family="'Liberation Sans', sans-serif" font-weight="normal">6</text>
<line x1="200.68" y1="457.7" x2="200.68" y2="460" stroke="#000" stroke-width="1.1"/>
<line x1="221" y1="457.7" x2="221" y2="461.2" stroke="#000" stroke-width="1.2"/>
<text transform="translate(221 470.2) scale(1.1 1)" font-size="8.2" text-anchor="middle" fill="#333" font-family="'Liberation Sans', sans-serif" font-weight="normal">7</text>
<line x1="241.32" y1="457.7" x2="241.32" y2="460" stroke="#000" stroke-width="1.1"/>
<line x1="261.65" y1="457.7" x2="261.65" y2="461.2" stroke="#000" stroke-width="1.2"/>
<text transform="translate(261.65 470.2) scale(1.1 1)" font-size="8.2" text-anchor="middle" fill="#333" font-family="'Liberation Sans', sans-serif" font-weight="normal">8</text>
<line x1="281.98" y1="457.7" x2="281.98" y2="460" stroke="#000" stroke-width="1.1"/>
<line x1="302.3" y1="457.7" x2="302.3" y2="461.2" stroke="#000" stroke-width="1.2"/>
<text transform="translate(302.3 470.2) scale(1.1 1)" font-size="8.2" text-anchor="middle" fill="#333" font-family="'Liberation Sans', sans-serif" font-weight="normal">9</text>
<path d="M58.6 288.7 L59.82 289.3 L61.03 289.89 L62.25 290.49 L63.47 291.08 L64.68 291.68 L65.9 292.27 L67.12 292.86 L68.33 293.45 L69.55 294.04 L70.77 294.63 L71.98 295.21 L73.2 295.8 L74.41 296.38 L75.63 296.95 L76.85 297.53 L78.06 298.1 L79.28 298.67 L80.5 299.23 L81.71 299.79 L82.93 300.35 L84.15 300.9 L85.36 301.46 L86.58 302.01 L87.8 302.56 L89.01 303.11 L90.23 303.67 L91.45 304.22 L92.66 304.78 L93.88 305.34 L95.09 305.91 L96.31 306.47 L97.53 307.05 L98.74 307.62 L99.96 308.21 L101.18 308.8 L102.39 309.4 L103.61 310.01 L104.83 310.62 L106.04 311.24 L107.26 311.87 L108.48 312.51 L109.69 313.16 L110.91 313.81 L112.13 314.47 L113.34 315.14 L114.56 315.81 L115.78 316.49 L116.99 317.18 L118.21 317.87 L119.43 318.57 L120.64 319.27 L121.86 319.98 L123.07 320.69 L124.29 321.42 L125.51 322.16 L126.72 322.9 L127.94 323.67 L129.16 324.45 L130.37 325.24 L131.59 326.06 L132.81 326.9 L134.02 327.76 L135.24 328.64 L136.46 329.55 L137.67 330.49 L138.89 331.46 L140.11 332.45 L141.32 333.48 L142.54 334.54 L143.75 335.64 L144.97 336.75 L146.19 337.9 L147.4 339.07 L148.62 340.27 L149.84 341.49 L151.05 342.74 L152.27 344 L153.49 345.28 L154.7 346.59 L155.92 347.91 L157.14 349.25 L158.35 350.6 L159.57 351.97 L160.79 353.35 L162 354.74 L163.22 356.15 L164.44 357.56 L165.65 358.98 L166.87 360.41 L168.09 361.84 L169.3 363.28 L170.52 364.72 L171.73 366.17 L172.95 367.61 L174.17 369.06 L175.38 370.5 L176.6 371.94 L177.82 373.38 L179.03 374.81 L180.25 376.24 L181.47 377.66 L182.68 379.07 L183.9 380.48 L185.12 381.87 L186.33 383.26 L187.55 384.63 L188.77 385.99 L189.98 387.34 L191.2 388.68 L192.41 390.01 L193.63 391.32 L194.85 392.62 L196.06 393.9 L197.28 395.17 L198.5 396.42 L199.71 397.66 L200.93 398.87 L202.15 400.07 L203.36 401.25 L204.58 402.42 L205.8 403.56 L207.01 404.68 L208.23 405.78 L209.45 406.85 L210.66 407.91 L211.88 408.94 L213.1 409.95 L214.31 410.93 L215.53 411.89 L216.74 412.82 L217.96 413.72 L219.18 414.6 L220.39 415.45 L221.61 416.28 L222.83 417.07 L224.04 417.84 L225.26 418.58 L226.48 419.29 L227.69 419.98 L228.91 420.65 L230.13 421.29 L231.34 421.91 L232.56 422.5 L233.78 423.08 L234.99 423.63 L236.21 424.16 L237.43 424.68 L238.64 425.17 L239.86 425.65 L241.07 426.11 L242.29 426.55 L243.51 426.98 L244.72 427.39 L245.94 427.79 L247.16 428.18 L248.37 428.55 L249.59 428.91 L250.81 429.26 L252.02 429.59 L253.24 429.92 L254.46 430.24 L255.67 430.55 L256.89 430.86 L258.11 431.15 L259.32 431.44 L260.54 431.72 L261.76 432 L262.97 432.28 L264.19 432.55 L265.41 432.82 L266.62 433.08 L267.84 433.34 L269.05 433.59 L270.27 433.85 L271.49 434.1 L272.7 434.34 L273.92 434.58 L275.14 434.82 L276.35 435.06 L277.57 435.29 L278.79 435.52 L280 435.75 L281.22 435.98 L282.44 436.2 L283.65 436.43 L284.87 436.65 L286.09 436.87 L287.3 437.08 L288.52 437.3 L289.74 437.51 L290.95 437.72 L292.17 437.94 L293.38 438.15 L294.6 438.36 L295.82 438.56 L297.03 438.77 L298.25 438.98 L299.47 439.19 L300.68 439.39 L301.9 439.6" fill="none" stroke="#6c0a9c" stroke-width="1.9" stroke-linejoin="round"/>
<rect x="56.4" y="286.5" width="4.4" height="4.4" fill="#6c0a9c"/>
<rect x="137.6" y="330" width="4.4" height="4.4" fill="#6c0a9c"/>
<rect x="218.7" y="413.6" width="4.4" height="4.4" fill="#6c0a9c"/>
<rect x="299.7" y="437.4" width="4.4" height="4.4" fill="#6c0a9c"/>
<rect x="38" y="269.9" width="284.8" height="187.8" fill="none" stroke="#000" stroke-width="1.9"/>
<text transform="translate(9.7 363.7) rotate(-90) scale(1 1.22)" font-size="9.8" text-anchor="middle" fill="#111" font-family="'Liberation Sans', sans-serif" font-weight="normal">Degradation rate (%)</text>
<text transform="translate(180.3 484.8) scale(1.2 1)" font-size="9.3" text-anchor="middle" fill="#111" font-family="'Liberation Sans', sans-serif" font-weight="normal">PH</text>
<text transform="translate(179.7 500.3)" font-size="15" text-anchor="middle" fill="#000" font-family="'Liberation Serif', serif" font-weight="bold">(m)</text>
<defs><linearGradient id="bg" x1="0" y1="0" x2="0" y2="1"><stop offset="0" stop-color="#0010ff"/><stop offset="0.25" stop-color="#0068ff"/><stop offset="0.5" stop-color="#00aaf8"/><stop offset="0.75" stop-color="#00dcfa"/><stop offset="1" stop-color="#00ffff"/></linearGradient></defs>
<rect x="404" y="278.6" width="20" height="169.7" fill="url(#bg)" stroke="#111" stroke-width="0.9"/>
<text transform="translate(415.4 277.6) scale(0.95 1)" font-size="7" text-anchor="middle" fill="#000" font-family="'Liberation Serif', serif" font-weight="bold">100</text>
<line x1="414" y1="448.3" x2="414" y2="451.8" stroke="#000" stroke-width="1.2"/>
<text transform="translate(414 461.3)" font-size="8.3" text-anchor="middle" fill="#222" font-family="'Liberation Sans', sans-serif" font-weight="normal">1st</text>
<rect x="429.18" y="278.6" width="20" height="169.7" fill="url(#bg)" stroke="#111" stroke-width="0.9"/>
<text transform="translate(440.58 277.6) scale(0.95 1)" font-size="7" text-anchor="middle" fill="#000" font-family="'Liberation Serif', serif" font-weight="bold">100</text>
<line x1="439.18" y1="448.3" x2="439.18" y2="451.8" stroke="#000" stroke-width="1.2"/>
<text transform="translate(439.18 461.3)" font-size="8.3" text-anchor="middle" fill="#222" font-family="'Liberation Sans', sans-serif" font-weight="normal">2nd</text>
<rect x="454.36" y="278.6" width="20" height="169.7" fill="url(#bg)" stroke="#111" stroke-width="0.9"/>
<text transform="translate(465.76 277.6) scale(0.95 1)" font-size="7" text-anchor="middle" fill="#000" font-family="'Liberation Serif', serif" font-weight="bold">100</text>
<line x1="464.36" y1="448.3" x2="464.36" y2="451.8" stroke="#000" stroke-width="1.2"/>
<text transform="translate(464.36 461.3)" font-size="8.3" text-anchor="middle" fill="#222" font-family="'Liberation Sans', sans-serif" font-weight="normal">3rd</text>
<rect x="479.54" y="279.84" width="20" height="168.46" fill="url(#bg)" stroke="#111" stroke-width="0.9"/>
<text transform="translate(490.94 278.84) scale(0.95 1)" font-size="7" text-anchor="middle" fill="#000" font-family="'Liberation Serif', serif" font-weight="bold">99.27</text>
<line x1="489.54" y1="448.3" x2="489.54" y2="451.8" stroke="#000" stroke-width="1.2"/>
<text transform="translate(489.54 461.3)" font-size="8.3" text-anchor="middle" fill="#222" font-family="'Liberation Sans', sans-serif" font-weight="normal">4th</text>
<rect x="504.72" y="281.81" width="20" height="166.49" fill="url(#bg)" stroke="#111" stroke-width="0.9"/>
<text transform="translate(516.12 280.81) scale(0.95 1)" font-size="7" text-anchor="middle" fill="#000" font-family="'Liberation Serif', serif" font-weight="bold">98.11</text>
<line x1="514.72" y1="448.3" x2="514.72" y2="451.8" stroke="#000" stroke-width="1.2"/>
<text transform="translate(514.72 461.3)" font-size="8.3" text-anchor="middle" fill="#222" font-family="'Liberation Sans', sans-serif" font-weight="normal">5th</text>
<rect x="529.9" y="284.06" width="20" height="164.24" fill="url(#bg)" stroke="#111" stroke-width="0.9"/>
<text transform="translate(541.3 283.06) scale(0.95 1)" font-size="7" text-anchor="middle" fill="#000" font-family="'Liberation Serif', serif" font-weight="bold">96.78</text>
<line x1="539.9" y1="448.3" x2="539.9" y2="451.8" stroke="#000" stroke-width="1.2"/>
<text transform="translate(539.9 461.3)" font-size="8.3" text-anchor="middle" fill="#222" font-family="'Liberation Sans', sans-serif" font-weight="normal">6th</text>
<rect x="555.08" y="286.58" width="20" height="161.72" fill="url(#bg)" stroke="#111" stroke-width="0.9"/>
<text transform="translate(566.48 285.58) scale(0.95 1)" font-size="7" text-anchor="middle" fill="#000" font-family="'Liberation Serif', serif" font-weight="bold">95.3</text>
<line x1="565.08" y1="448.3" x2="565.08" y2="451.8" stroke="#000" stroke-width="1.2"/>
<text transform="translate(565.08 461.3)" font-size="8.3" text-anchor="middle" fill="#222" font-family="'Liberation Sans', sans-serif" font-weight="normal">7th</text>
<rect x="580.26" y="288.14" width="20" height="160.16" fill="url(#bg)" stroke="#111" stroke-width="0.9"/>
<text transform="translate(591.66 287.14) scale(0.95 1)" font-size="7" text-anchor="middle" fill="#000" font-family="'Liberation Serif', serif" font-weight="bold">94.38</text>
<line x1="590.26" y1="448.3" x2="590.26" y2="451.8" stroke="#000" stroke-width="1.2"/>
<text transform="translate(590.26 461.3)" font-size="8.3" text-anchor="middle" fill="#222" font-family="'Liberation Sans', sans-serif" font-weight="normal">8th</text>
<rect x="605.44" y="291.36" width="20" height="156.94" fill="url(#bg)" stroke="#111" stroke-width="0.9"/>
<text transform="translate(616.84 290.36) scale(0.95 1)" font-size="7" text-anchor="middle" fill="#000" font-family="'Liberation Serif', serif" font-weight="bold">92.48</text>
<line x1="615.44" y1="448.3" x2="615.44" y2="451.8" stroke="#000" stroke-width="1.2"/>
<text transform="translate(615.44 461.3)" font-size="8.3" text-anchor="middle" fill="#222" font-family="'Liberation Sans', sans-serif" font-weight="normal">9th</text>
<rect x="630.62" y="292.65" width="20" height="155.65" fill="url(#bg)" stroke="#111" stroke-width="0.9"/>
<text transform="translate(642.02 291.65) scale(0.95 1)" font-size="7" text-anchor="middle" fill="#000" font-family="'Liberation Serif', serif" font-weight="bold">91.72</text>
<line x1="640.62" y1="448.3" x2="640.62" y2="451.8" stroke="#000" stroke-width="1.2"/>
<text transform="translate(640.62 461.3)" font-size="8.3" text-anchor="middle" fill="#222" font-family="'Liberation Sans', sans-serif" font-weight="normal">10th</text>
<line x1="397" y1="448.3" x2="401" y2="448.3" stroke="#000" stroke-width="1.1"/>
<text transform="translate(394.2 450.9)" font-size="8.2" text-anchor="end" fill="#333" font-family="'Liberation Sans', sans-serif" font-weight="normal">0</text>
<line x1="398.5" y1="439.81" x2="401" y2="439.81" stroke="#000" stroke-width="1"/>
<line x1="397" y1="431.33" x2="401" y2="431.33" stroke="#000" stroke-width="1.1"/>
<text transform="translate(394.2 433.93)" font-size="8.2" text-anchor="end" fill="#333" font-family="'Liberation Sans', sans-serif" font-weight="normal">10</text>
<line x1="398.5" y1="422.85" x2="401" y2="422.85" stroke="#000" stroke-width="1"/>
<line x1="397" y1="414.36" x2="401" y2="414.36" stroke="#000" stroke-width="1.1"/>
<text transform="translate(394.2 416.96)" font-size="8.2" text-anchor="end" fill="#333" font-family="'Liberation Sans', sans-serif" font-weight="normal">20</text>
<line x1="398.5" y1="405.88" x2="401" y2="405.88" stroke="#000" stroke-width="1"/>
<line x1="397" y1="397.39" x2="401" y2="397.39" stroke="#000" stroke-width="1.1"/>
<text transform="translate(394.2 399.99)" font-size="8.2" text-anchor="end" fill="#333" font-family="'Liberation Sans', sans-serif" font-weight="normal">30</text>
<line x1="398.5" y1="388.91" x2="401" y2="388.91" stroke="#000" stroke-width="1"/>
<line x1="397" y1="380.42" x2="401" y2="380.42" stroke="#000" stroke-width="1.1"/>
<text transform="translate(394.2 383.02)" font-size="8.2" text-anchor="end" fill="#333" font-family="'Liberation Sans', sans-serif" font-weight="normal">40</text>
<line x1="398.5" y1="371.94" x2="401" y2="371.94" stroke="#000" stroke-width="1"/>
<line x1="397" y1="363.45" x2="401" y2="363.45" stroke="#000" stroke-width="1.1"/>
<text transform="translate(394.2 366.05)" font-size="8.2" text-anchor="end" fill="#333" font-family="'Liberation Sans', sans-serif" font-weight="normal">50</text>
<line x1="398.5" y1="354.97" x2="401" y2="354.97" stroke="#000" stroke-width="1"/>
<line x1="397" y1="346.48" x2="401" y2="346.48" stroke="#000" stroke-width="1.1"/>
<text transform="translate(394.2 349.08)" font-size="8.2" text-anchor="end" fill="#333" font-family="'Liberation Sans', sans-serif" font-weight="normal">60</text>
<line x1="398.5" y1="338" x2="401" y2="338" stroke="#000" stroke-width="1"/>
<line x1="397" y1="329.51" x2="401" y2="329.51" stroke="#000" stroke-width="1.1"/>
<text transform="translate(394.2 332.11)" font-size="8.2" text-anchor="end" fill="#333" font-family="'Liberation Sans', sans-serif" font-weight="normal">70</text>
<line x1="398.5" y1="321.02" x2="401" y2="321.02" stroke="#000" stroke-width="1"/>
<line x1="397" y1="312.54" x2="401" y2="312.54" stroke="#000" stroke-width="1.1"/>
<text transform="translate(394.2 315.14)" font-size="8.2" text-anchor="end" fill="#333" font-family="'Liberation Sans', sans-serif" font-weight="normal">80</text>
<line x1="398.5" y1="304.06" x2="401" y2="304.06" stroke="#000" stroke-width="1"/>
<line x1="397" y1="295.57" x2="401" y2="295.57" stroke="#000" stroke-width="1.1"/>
<text transform="translate(394.2 298.17)" font-size="8.2" text-anchor="end" fill="#333" font-family="'Liberation Sans', sans-serif" font-weight="normal">90</text>
<line x1="398.5" y1="287.09" x2="401" y2="287.09" stroke="#000" stroke-width="1"/>
<line x1="397" y1="278.6" x2="401" y2="278.6" stroke="#000" stroke-width="1.1"/>
<text transform="translate(394.2 281.2)" font-size="8.2" text-anchor="end" fill="#333" font-family="'Liberation Sans', sans-serif" font-weight="normal">100</text>
<line x1="398.5" y1="270.12" x2="401" y2="270.12" stroke="#000" stroke-width="1"/>
<rect x="401" y="270.5" width="252.3" height="177.8" fill="none" stroke="#111" stroke-width="1.5"/>
<line x1="401" y1="269.8" x2="401" y2="449.3" stroke="#000" stroke-width="2"/>
<line x1="400" y1="448.3" x2="654" y2="448.3" stroke="#000" stroke-width="2"/>
<text transform="translate(375.9 359.9) rotate(-90) scale(1 1.18)" font-size="9.2" text-anchor="middle" fill="#111" font-family="'Liberation Sans', sans-serif" font-weight="normal">Degradation rate (%)</text>
<text transform="translate(527.5 475) scale(1.05 1)" font-size="10" text-anchor="middle" fill="#111" font-family="'Liberation Sans', sans-serif" font-weight="normal">Cycles</text>
<text transform="translate(528.6 492.3)" font-size="14.8" text-anchor="middle" fill="#000" font-family="'Liberation Serif', serif" font-weight="bold">(n)</text>
<line x1="198" y1="733.5" x2="198" y2="737.2" stroke="#000" stroke-width="1.3"/>
<text transform="translate(198 747.3) scale(0.98 1)" font-size="9.8" text-anchor="middle" fill="#222" font-family="'Liberation Sans', sans-serif" font-weight="normal">10</text>
<line x1="219.36" y1="733.5" x2="219.36" y2="735.7" stroke="#000" stroke-width="1.2"/>
<line x1="240.71" y1="733.5" x2="240.71" y2="737.2" stroke="#000" stroke-width="1.3"/>
<text transform="translate(240.71 747.3) scale(0.98 1)" font-size="9.8" text-anchor="middle" fill="#222" font-family="'Liberation Sans', sans-serif" font-weight="normal">20</text>
<line x1="262.07" y1="733.5" x2="262.07" y2="735.7" stroke="#000" stroke-width="1.2"/>
<line x1="283.43" y1="733.5" x2="283.43" y2="737.2" stroke="#000" stroke-width="1.3"/>
<text transform="translate(283.43 747.3) scale(0.98 1)" font-size="9.8" text-anchor="middle" fill="#222" font-family="'Liberation Sans', sans-serif" font-weight="normal">30</text>
<line x1="304.79" y1="733.5" x2="304.79" y2="735.7" stroke="#000" stroke-width="1.2"/>
<line x1="326.14" y1="733.5" x2="326.14" y2="737.2" stroke="#000" stroke-width="1.3"/>
<text transform="translate(326.14 747.3) scale(0.98 1)" font-size="9.8" text-anchor="middle" fill="#222" font-family="'Liberation Sans', sans-serif" font-weight="normal">40</text>
<line x1="347.5" y1="733.5" x2="347.5" y2="735.7" stroke="#000" stroke-width="1.2"/>
<line x1="368.86" y1="733.5" x2="368.86" y2="737.2" stroke="#000" stroke-width="1.3"/>
<text transform="translate(368.86 747.3) scale(0.98 1)" font-size="9.8" text-anchor="middle" fill="#222" font-family="'Liberation Sans', sans-serif" font-weight="normal">50</text>
<line x1="390.21" y1="733.5" x2="390.21" y2="735.7" stroke="#000" stroke-width="1.2"/>
<line x1="411.57" y1="733.5" x2="411.57" y2="737.2" stroke="#000" stroke-width="1.3"/>
<text transform="translate(411.57 747.3) scale(0.98 1)" font-size="9.8" text-anchor="middle" fill="#222" font-family="'Liberation Sans', sans-serif" font-weight="normal">60</text>
<line x1="432.93" y1="733.5" x2="432.93" y2="735.7" stroke="#000" stroke-width="1.2"/>
<line x1="454.29" y1="733.5" x2="454.29" y2="737.2" stroke="#000" stroke-width="1.3"/>
<text transform="translate(454.29 747.3) scale(0.98 1)" font-size="9.8" text-anchor="middle" fill="#222" font-family="'Liberation Sans', sans-serif" font-weight="normal">70</text>
<line x1="475.64" y1="733.5" x2="475.64" y2="735.7" stroke="#000" stroke-width="1.2"/>
<line x1="497" y1="733.5" x2="497" y2="737.2" stroke="#000" stroke-width="1.3"/>
<text transform="translate(497 747.3) scale(0.98 1)" font-size="9.8" text-anchor="middle" fill="#222" font-family="'Liberation Sans', sans-serif" font-weight="normal">80</text>
<path d="M198.4 674.5 L199.6 678.7 L200.7 685.6 L202.5 689 L204.2 695.9 L205.6 699.9 L207.6 695.9 L209.3 697 L210.5 699.9 L213.4 696.5 L215.1 698.2 L216.8 697.6 L219.3 703.9 L221.4 699.3 L224.3 697.6 L226 701.1 L229.4 693.4 L231.7 695.3 L234.6 699.9 L238 696.5 L240.9 699.3 L243.8 694.2 L245.5 693 L247.2 682.1 L248.4 670.7 L249.5 661.5 L250.7 666.1 L251.5 678.7 L252.4 689 L253 696.5 L255.8 693.6 L258.1 697.6 L260.4 693 L261.5 695.8 L263.8 698.1 L266.9 703.4 L269.2 698.9 L270.7 696.6 L272.3 700.4 L274.6 699.6 L276.1 701.1 L278.4 698.1 L280.7 698.1 L282.2 695 L283 685.8 L284.2 661.3 L285 638.3 L285.7 606.9 L286.4 627.6 L286.8 646 L287.6 667.4 L288.4 685.8 L289.4 700.4 L291.4 700.4 L293 701.1 L294 692 L294.9 669 L295.6 646 L296.1 615 L296.8 638.3 L297.5 649 L298.7 668.7 L299.9 691.7 L301.5 677.9 L302.4 640 L302.8 600 L303.3 554 L304 556 L304.4 572 L304.9 558.4 L305.4 590 L305.8 620.5 L306.6 655 L307.2 672 L307.9 690 L308.6 700.9 L309.6 710.1 L311.6 713.1 L313.7 712.1 L315.2 714.2 L318.3 718.8 L321.4 718.2 L323.9 715.7 L326.5 715.2 L329 717.7 L332.6 714.7 L335.1 717.2 L337.7 721.8 L340.3 714.2 L342.8 721.3 L345.9 715.7 L348.9 717.7 L352 714.7 L355.1 713.1 L356.6 703.9 L357.6 694.7 L359 680.4 L360.2 694.7 L361.2 709 L362.7 719.3 L366.3 719.3 L369.4 716.7 L372.3 717.7 L374.6 716.6 L376.9 722.9 L379.8 717.7 L381.5 720 L383.8 724.6 L387.2 722.3 L391.2 719.4 L393 714.3 L395.2 707.4 L396.6 695.9 L397.5 687.9 L398.1 678.7 L398.9 668.4 L399.6 684.4 L400.4 698.2 L401.6 710.8 L403.3 718.9 L405.6 720.6 L407.3 718.9 L409.6 721.7 L412.5 720.6 L414.8 722.9 L417.6 718.9 L420.5 716.6 L422.2 709.7 L423 698.2 L423.9 684.4 L424.9 678.7 L425.9 667.8 L426.6 687.9 L427.4 698.2 L428.5 714.3 L429.7 717.7 L432.5 716.6 L434 717.1 L436.3 719.4 L438 716 L440.3 712 L442.6 715.4 L443.8 713.7 L444.9 698.2 L446.1 693.6 L446.9 679.8 L447.8 690.2 L448.4 693.6 L449.3 697 L450.4 702.8 L452.4 703.9 L453.5 707.4 L454.7 714.3 L456.4 718.9 L458.7 720.6 L460.8 725.2 L463.3 721.2 L466.7 718.9 L470.7 724.6 L474.2 720 L476.5 721.7 L479.3 724.6 L482.8 723.4 L485.7 718.9 L488.5 722.3 L490.8 721.2 L493.7 724.6 L496.3 722.9" fill="none" stroke="#4a0c62" stroke-width="2.4" stroke-linejoin="round" stroke-linecap="round"/>
<rect x="198" y="528" width="299" height="205.5" fill="none" stroke="#000" stroke-width="1.6"/>
<line x1="374.2" y1="538.7" x2="404.2" y2="538.7" stroke="#4a0c62" stroke-width="1.8"/>
<text transform="translate(407 542.6) scale(1.13 1)" font-size="10.6" text-anchor="start" fill="#111" font-family="'Liberation Sans', sans-serif" font-weight="normal">After</text>
<text transform="translate(437.2 542.6) scale(1.04 1)" font-size="10.6" text-anchor="start" fill="#111" font-family="'Liberation Sans', sans-serif" font-weight="normal">10</text>
<text transform="translate(450.4 538.4) scale(1.14 1)" font-size="6.4" text-anchor="start" fill="#111" font-family="'Liberation Sans', sans-serif" font-weight="normal">th</text>
<text transform="translate(463 542.6) scale(1.15 1)" font-size="10.6" text-anchor="start" fill="#111" font-family="'Liberation Sans', sans-serif" font-weight="normal">cycle</text>
<text transform="translate(187.9 630.6) rotate(-90)" font-size="10.5" text-anchor="middle" fill="#111" font-family="'Liberation Sans', sans-serif" font-weight="normal">Intensity (a.u)</text>
<text transform="translate(347.6 763.8) scale(1.17 1)" font-size="10.7" text-anchor="middle" fill="#111" font-family="'Liberation Sans', sans-serif" font-weight="normal">2 Theta (Degree)</text>
<text transform="translate(348.2 779.5)" font-size="14.4" text-anchor="middle" fill="#000" font-family="'Liberation Serif', serif" font-weight="bold">(o)</text>
</svg></body></html>
